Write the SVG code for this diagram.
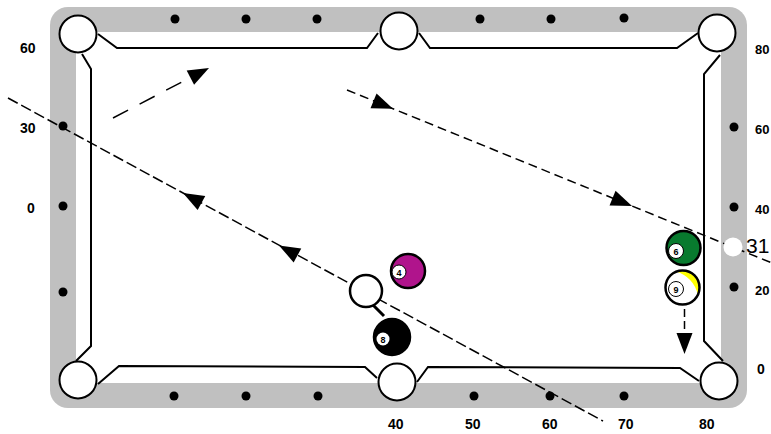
<svg xmlns="http://www.w3.org/2000/svg" width="771" height="434" viewBox="0 0 771 434">
<style>
.rail{fill:#c0c0c0}
.cloth{fill:#ffffff}
.cush{fill:none;stroke:#000;stroke-width:2}
.pocket{fill:#fff;stroke:#000;stroke-width:2}
.dot{fill:#000}
.lbl{font-family:"Liberation Sans",Arial,sans-serif;font-size:14px;font-weight:bold;fill:#000}
.rl{font-size:13px}
.num{font-family:"Liberation Sans",Arial,sans-serif;font-size:9px;font-weight:bold;fill:#000;text-anchor:middle}
.path{fill:none;stroke:#000;stroke-width:1.5}
.ball{stroke:#000;stroke-width:2.5}
</style>
<defs>
<path id="ah" d="M0,0 L-21,-8 L-21,8 Z" fill="#000"/>
</defs>
<rect width="771" height="434" fill="#fff"/>
<g id="table">
<rect class="rail" x="50" y="7" width="697" height="401" rx="18"/>
<rect class="cloth" x="76" y="32" width="645" height="351"/>
<g id="diamonds">
<circle class="dot" cx="175" cy="19" r="4.5"/>
<circle class="dot" cx="246" cy="19" r="4.5"/>
<circle class="dot" cx="317" cy="19" r="4.5"/>
<circle class="dot" cx="480" cy="19" r="4.5"/>
<circle class="dot" cx="551" cy="19" r="4.5"/>
<circle class="dot" cx="624" cy="18" r="4.5"/>
<circle class="dot" cx="174" cy="396" r="4.5"/>
<circle class="dot" cx="246" cy="396" r="4.5"/>
<circle class="dot" cx="318" cy="396" r="4.5"/>
<circle class="dot" cx="474" cy="396" r="4.5"/>
<circle class="dot" cx="550" cy="396" r="4.5"/>
<circle class="dot" cx="624" cy="396" r="4.5"/>
<circle class="dot" cx="63" cy="126" r="4.5"/>
<circle class="dot" cx="63" cy="206" r="4.5"/>
<circle class="dot" cx="63" cy="292" r="4.5"/>
<circle class="dot" cx="734" cy="127" r="4.5"/>
<circle class="dot" cx="734" cy="207" r="4.5"/>
<circle class="dot" cx="734" cy="287" r="4.5"/>
</g>
<g id="cushions">
<polyline class="cush" points="98,34 117,48 367,48 378,33"/>
<polyline class="cush" points="419,33 430,48 677,48 698,33"/>
<polyline class="cush" points="720,55 704,74 704,341 723,361"/>
<polyline class="cush" points="699,381 680,368 428,367 417,382"/>
<polyline class="cush" points="377,378 365,367 119,366 98,384"/>
<polyline class="cush" points="76,361 91,346 91,69 82,54"/>
</g>
</g>
<g id="connectors">
<line class="path" x1="8" y1="98" x2="603" y2="421" stroke-dasharray="11 4"/>
<use href="#ah" transform="translate(183,193) rotate(208.5)"/>
<use href="#ah" transform="translate(279,245.4) rotate(208.5)"/>
<line class="path" x1="113" y1="118" x2="200" y2="72.5" stroke-dasharray="17 13"/>
<use href="#ah" transform="translate(209,68) rotate(-27.5)"/>
<line class="path" x1="347" y1="90" x2="771" y2="262.6" stroke-dasharray="9 5"/>
<use href="#ah" transform="translate(393,108.7) rotate(22.1)"/>
<use href="#ah" transform="translate(632,206) rotate(22.1)"/>
<line class="path" x1="684.5" y1="309" x2="684.5" y2="336" stroke-dasharray="8 4"/>
<use href="#ah" transform="translate(684.5,354) rotate(90)"/>
<line x1="370" y1="302" x2="384" y2="316" stroke="#000" stroke-width="3"/>
</g>
<g id="pockets">
<circle class="pocket" cx="78" cy="34" r="18.5"/>
<circle class="pocket" cx="399" cy="31" r="18.5"/>
<circle class="pocket" cx="717" cy="33" r="18.5"/>
<circle class="pocket" cx="78" cy="380" r="18.5"/>
<circle class="pocket" cx="397" cy="382" r="18.5"/>
<circle class="pocket" cx="719" cy="381" r="18.5"/>
</g>
<g id="ghost">
<circle cx="733" cy="247" r="9.5" fill="#fff"/>
</g>
<g id="cueball">
<circle class="ball" cx="366" cy="291" r="16" fill="#fff" stroke-width="3"/>
</g>
<g id="ball4">
<circle class="ball" cx="408" cy="271" r="17" fill="#b0148c"/>
<circle cx="399" cy="272" r="7" fill="#fff" stroke="#000" stroke-width="1"/>
<text class="num" x="399" y="275.5">4</text>
</g>
<g id="ball8">
<circle class="ball" cx="392" cy="337" r="18" fill="#000"/>
<circle cx="383" cy="339" r="6.5" fill="#fff"/>
<text class="num" x="383" y="342.5">8</text>
</g>
<g id="ball6">
<circle class="ball" cx="683.5" cy="248" r="17" fill="#087a2e"/>
<circle cx="676" cy="251" r="7.5" fill="#fff" stroke="#000" stroke-width="1"/>
<text class="num" x="676" y="254.5">6</text>
</g>
<g id="ball9">
<circle cx="682.5" cy="287.5" r="17" fill="#fff"/>
<path d="M676,271.5 A17 17 0 0 1 698,295 Q693.5,277 676,271.5 Z" fill="#ffff00"/>
<circle class="ball" cx="682.5" cy="287.5" r="17" fill="none"/>
<circle cx="676" cy="289" r="7.5" fill="#fff" stroke="#000" stroke-width="1"/>
<text class="num" x="676" y="292.5">9</text>
</g>
<g id="labels">
<text class="lbl" x="20" y="53">60</text>
<text class="lbl" x="20" y="133">30</text>
<text class="lbl" x="27" y="213">0</text>
<text class="lbl rl" x="755" y="54">80</text>
<text class="lbl rl" x="755" y="134">60</text>
<text class="lbl rl" x="755" y="214">40</text>
<text class="lbl rl" x="755" y="295">20</text>
<text class="lbl" x="757" y="374">0</text>
<text class="lbl" x="388" y="429">40</text>
<text class="lbl" x="465" y="429">50</text>
<text class="lbl" x="542" y="429">60</text>
<text class="lbl" x="618" y="429">70</text>
<text class="lbl" x="699" y="429">80</text>
<text x="746" y="253" font-family="Liberation Sans,Arial,sans-serif" font-size="21" fill="#000">31</text>
</g>
</svg>
